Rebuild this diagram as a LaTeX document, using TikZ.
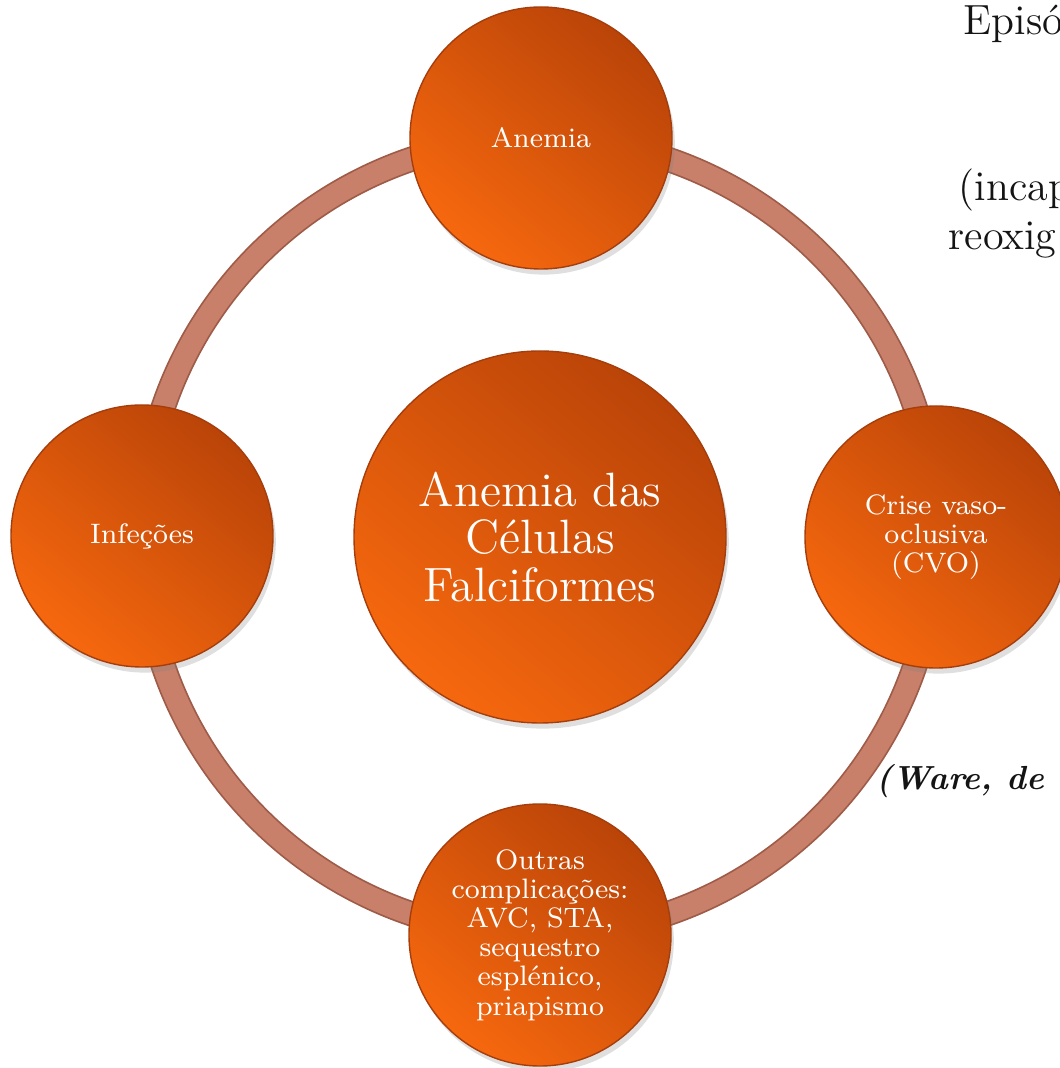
\documentclass[tikz,border=0pt]{standalone}
\usepackage{tikz}
\usetikzlibrary{shadows,backgrounds}
\definecolor{disc_dark}{RGB}{186,68,8}
\definecolor{disc_light}{RGB}{246,104,14}
\definecolor{disc_edge}{RGB}{165,62,12}
\definecolor{ring_fill}{RGB}{200,128,106}
\definecolor{ring_edge}{RGB}{158,92,72}
\definecolor{side_gray}{RGB}{20,20,20}

\begin{document}
\begin{tikzpicture}
    \tikzstyle{disc}=[circle, draw=disc_edge, thin, top color=disc_dark, bottom color=disc_light, shading angle=-40, text=white, align=center, inner sep=0pt, drop shadow={opacity=0.25, shadow xshift=0.8pt, shadow yshift=-1.6pt}]
    \tikzstyle{sat}=[style=disc, minimum size=2.62cm, font=\fontsize{8}{8.3}\selectfont]
    \tikzstyle{core}=[style=disc, minimum size=3.72cm, font=\fontsize{13.7}{13.4}\selectfont]
    \tikzstyle{ring}=[draw=ring_edge, line width=0.5pt, double=ring_fill, double distance=6.2pt]
    \tikzstyle{side}=[anchor=base west, inner sep=0pt, text=side_gray, font=\fontsize{12}{14}\selectfont]

    \useasboundingbox (0,0) rectangle (10.60,10.68);
    \clip (0,0) rectangle (10.60,10.68);

    \node[core] (acf) at (5.40,5.31)  {Anemia das\\Células\\Falciformes};
    \node[sat]  (anm) at (5.41,9.30)  {Anemia};
    \node[sat]  (cvo) at (9.36,5.31)  {Crise vaso-\\oclusiva\\(CVO)};
    \node[sat]  (out) at (5.40,1.33)  {Outras\\complicações:\\AVC, STA,\\sequestro\\esplénico,\\priapismo};
    \node[sat]  (inf) at (1.42,5.32)  {Infeções};

    \node[side] (ep) at (9.63,10.33) {Episó};
    \node[side] (in) at (9.58,8.67)  {(incap};
    \node[side] (re) at (9.48,8.18)  {reoxig};
    \node[side, font=\fontsize{9.5}{10}\selectfont\bfseries\itshape] (wa) at (8.76,2.78) {(Ware, de};

    \begin{scope}[on background layer]
    \path
     (anm.center) edge[ring, bend left=45] (cvo.center)
     (cvo.center) edge[ring, bend left=45] (out.center)
     (out.center) edge[ring, bend left=45] (inf.center)
     (inf.center) edge[ring, bend left=45] (anm.center)
     ;
    \end{scope}
\end{tikzpicture}
\end{document}
